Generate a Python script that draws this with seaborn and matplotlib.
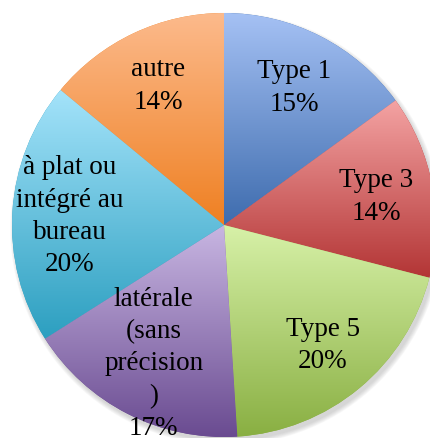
import numpy as np
import seaborn as sns
import matplotlib.pyplot as plt
from matplotlib.patches import Circle

categories = ['Type 1', 'Type 3', 'Type 5', 'latérale\n(sans\nprécision\n)',
              'à plat ou\nintégré au\nbureau', 'autre']
values = [15, 14, 20, 17, 20, 14]
top_colors = ['#A5C1F4', '#F4A3A3', '#D7F1A8', '#C8B6E2', '#A4E3FA', '#FCBA8C']
bottom_colors = ['#3E6CAE', '#B33535', '#89AF42', '#694A90', '#2C9FC0', '#EF8022']

sns.set_theme(style="white")
plt.rcParams['font.family'] = ['Liberation Serif', 'DejaVu Serif']

fig = plt.figure(figsize=(4.30, 4.39), dpi=100)
ax = fig.add_axes([0, 0, 1, 1])

# soft shadow behind the pie
for i in range(6):
    ax.add_patch(Circle((0.012, -0.018), 1.0 + i * 0.004, color='#808080',
                        alpha=0.06, lw=0, zorder=0))

total = sum(values)
labels = [f'{c}\n{round(v * 100 / total)}%' for c, v in zip(categories, values)]

wedges, texts = ax.pie(values, labels=labels, startangle=90, counterclock=False,
                       colors=bottom_colors, labeldistance=0.73,
                       wedgeprops=dict(linewidth=0),
                       textprops=dict(fontsize=19.5, color='black'))

grad = np.linspace(0, 1, 256).reshape(-1, 1)
for w, c_top, c_bot in zip(wedges, top_colors, bottom_colors):
    pts = w.get_patch_transform().transform(w.get_path().vertices)
    x0, x1 = pts[:, 0].min(), pts[:, 0].max()
    y0, y1 = pts[:, 1].min(), pts[:, 1].max()
    cmap = sns.blend_palette([c_bot, c_top], as_cmap=True)
    im = ax.imshow(grad, extent=[x0, x1, y0, y1], origin='lower', cmap=cmap,
                   aspect='auto', zorder=w.get_zorder() + 0.1, interpolation='bilinear')
    im.set_clip_path(w)

for t in texts:
    t.set_ha('center')
    t.set_va('center')
    t.set_multialignment('center')
    t.set_linespacing(1.38)
    t.set_zorder(5)

cx, cy, r = 224, 226, 212
ax.set_xlim(-cx / r, (430 - cx) / r)
ax.set_ylim(-(439 - cy) / r, cy / r)
ax.set_aspect('equal')
ax.axis('off')

fig.savefig('out.png', dpi=100, facecolor='white')
